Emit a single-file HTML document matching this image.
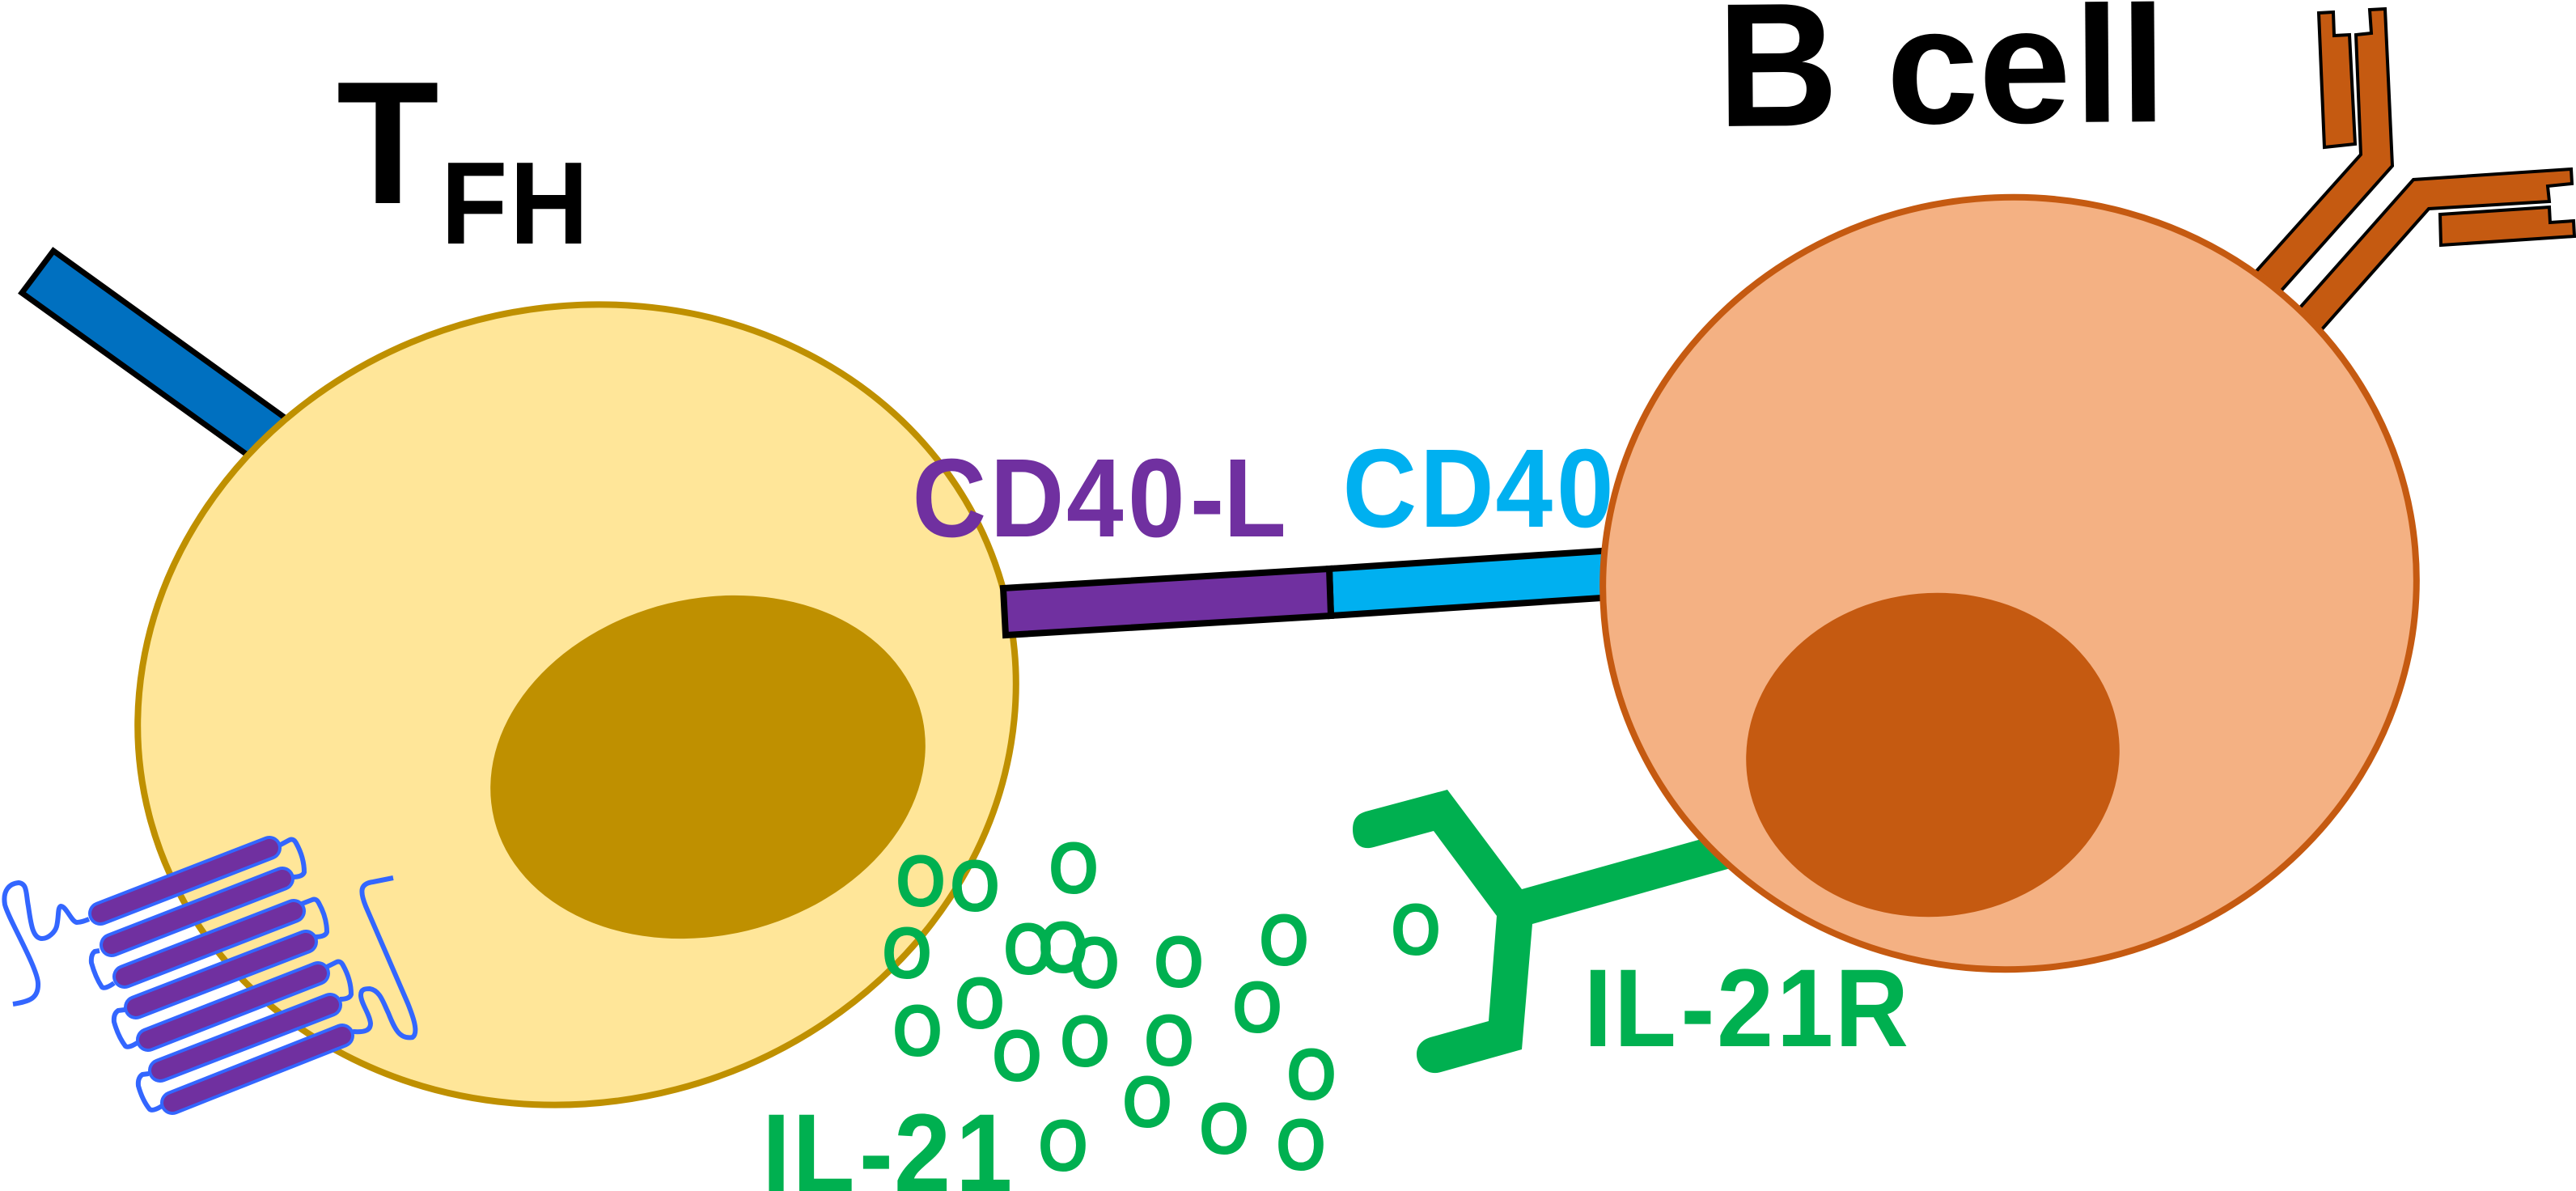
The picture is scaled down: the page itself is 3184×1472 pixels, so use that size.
<!DOCTYPE html>
<html>
<head>
<meta charset="utf-8">
<title>TFH and B cell</title>
<style>
html,body{margin:0;padding:0;background:#fff;}
svg{display:block;}
text{font-family:"Liberation Sans",sans-serif;font-weight:bold;}
</style>
</head>
<body>
<svg width="3184" height="1472" viewBox="0 0 3184 1472" xmlns="http://www.w3.org/2000/svg">
<rect width="3184" height="1472" fill="#fff"/>

<!-- TCR bar -->
<polygon points="66,310 399,550 350,594 27,362" fill="#0070C0" stroke="#000" stroke-width="7"/>

<!-- Antibody -->
<g fill="#C55A11" stroke="#000" stroke-width="4" stroke-linejoin="miter">
<polygon points="2789,335 2918,191 2912,43 2931,41 2929,12 2948,11 2957,205 2819,360 2800,400"/>
<polygon points="2866,16 2884,15 2885,44 2904,43 2911,178 2873,182"/>
<polygon points="2843,380 2983,222 3178,209 3179,227 3149,230 3151,249 3002,258 2870,407 2840,420"/>
<polygon points="3016,265 3151,256 3152,275 3181,273 3182,292 3017,303"/>
</g>

<!-- CD40 label (under B cell) -->
<text x="0 103.8 205.4 287.5" y="0" font-size="138" fill="#00B0F0" transform="translate(1659.5,651) scale(.92,1)">CD40</text>

<!-- CD40 bar -->
<polygon points="1643,703 1995,680 1995,738 1645,761" fill="#00B0F0" stroke="#000" stroke-width="8"/>

<!-- IL-21R receptor -->
<path d="M1789,976 L1881,1099 L2103,1037 L2160,1060 L2139,1073 L1894,1142 L1881,1297 L1781,1325 C1765,1330 1751,1318 1751,1303 C1751,1292 1758,1285 1768,1282 L1840,1262 L1850,1132 L1772,1027 L1698,1047 C1680,1052 1672,1040 1672,1025 C1672,1012 1678,1006 1688,1003 Z" fill="#00B050"/>

<!-- T cell -->
<ellipse cx="713" cy="871" rx="546" ry="491" transform="rotate(-14.5 713 871)" fill="#FFE699" stroke="#BF9000" stroke-width="8"/>
<ellipse cx="875" cy="948" rx="272" ry="208" transform="rotate(-13.7 875 948)" fill="#BF9000"/>

<!-- B cell -->
<ellipse cx="2484" cy="721" rx="503" ry="477" transform="rotate(-5 2484 721)" fill="#F4B183" stroke="#C55A11" stroke-width="8"/>
<ellipse cx="2389" cy="933" rx="231" ry="200" transform="rotate(-5 2389 933)" fill="#C55A11"/>

<!-- CD40-L bar -->
<polygon points="1240,727 1643,703 1645,761 1243,785" fill="#7030A0" stroke="#000" stroke-width="8"/>

<!-- Titles -->
<text x="0" y="0" font-size="216" fill="#000" transform="translate(416,251) scale(.96,1)">T</text>
<text x="0 91.4" y="0" font-size="145" fill="#000" transform="translate(545,301) scale(.93,1)">FH</text>
<g transform="rotate(-0.4 2400 150)" fill="#000">
<text x="2123" y="154" font-size="218" transform="translate(2123,0) scale(.95,1) translate(-2123,0)">B</text>
<text x="2332 2446 2564 2621" y="152" font-size="205">cell</text>
</g>

<!-- Labels -->
<text x="0 104.6 207.1 289.7 373.3 418.3" y="0" font-size="138" fill="#7030A0" transform="translate(1127.5,663) scale(.92,1)">CD40-L</text>
<text x="0 40.8 130.4 178.8 259.2 337.5" y="0" font-size="137" fill="#00B050" transform="translate(1957.5,1293) scale(.92,1)">IL-21R</text>
<text x="0 40.8 130.4 177.2 260" y="0" font-size="137" fill="#00B050" transform="translate(942,1472) scale(.92,1)">IL-21</text>

<!-- IL-21 molecules -->
<g font-size="91" fill="#00B050" text-anchor="middle">
<text transform="translate(1138,1120) scale(.88,1)">O</text>
<text transform="translate(1205,1126) scale(.88,1)">O</text>
<text transform="translate(1327,1104) scale(.88,1)">O</text>
<text transform="translate(1121,1209) scale(.88,1)">O</text>
<text transform="translate(1271,1204) scale(.88,1)">O</text>
<text transform="translate(1314,1202) scale(.88,1)">O</text>
<text transform="translate(1353,1221) scale(.88,1)">O</text>
<text transform="translate(1457,1220) scale(.88,1)">O</text>
<text transform="translate(1587,1193) scale(.88,1)">O</text>
<text transform="translate(1211,1271) scale(.88,1)">O</text>
<text transform="translate(1134,1305) scale(.88,1)">O</text>
<text transform="translate(1257,1336) scale(.88,1)">O</text>
<text transform="translate(1341,1318) scale(.88,1)">O</text>
<text transform="translate(1445,1317) scale(.88,1)">O</text>
<text transform="translate(1554,1276) scale(.88,1)">O</text>
<text transform="translate(1621,1359) scale(.88,1)">O</text>
<text transform="translate(1418,1393) scale(.88,1)">O</text>
<text transform="translate(1513,1426) scale(.88,1)">O</text>
<text transform="translate(1608,1446) scale(.88,1)">O</text>
<text transform="translate(1314,1447) scale(.88,1)">O</text>
<text transform="translate(1750,1180) scale(.88,1)">O</text>
</g>

<!-- 7TM receptor loops -->
<g fill="none" stroke="#3366FF" stroke-width="6" stroke-linecap="butt" stroke-linejoin="round">
<path d="M16,1241 C36,1238 48,1234 47,1215 C46,1195 10,1135 6,1118 C3,1100 12,1092 23,1091 C34,1092 32,1105 35,1120 C38,1140 40,1160 52,1160 C60,1160 68,1152 70,1145 C73,1132 71,1122 75,1120 C82,1120 88,1139 95,1140 C100,1140 105,1138 110,1136"/>
<path d="M345,1045 L358,1038 Q363,1036 366,1042 Q376,1060 376,1078 Q374,1084 361,1084"/>
<path d="M123,1175 L117,1176 Q112,1180 113,1190 Q118,1208 126,1220 Q130,1223 141,1215"/>
<path d="M373,1117 L386,1112 Q391,1110 394,1116 Q404,1134 404,1152 Q402,1158 389,1158"/>
<path d="M154,1248 L146,1249 Q140,1253 141,1263 Q146,1281 155,1293 Q159,1296 171,1288"/>
<path d="M404,1195 L416,1189 Q421,1187 424,1193 Q434,1211 434,1229 Q432,1235 420,1235"/>
<path d="M184,1327 L176,1328 Q170,1332 171,1342 Q176,1360 185,1371 Q189,1374 200,1367"/>
<path d="M436,1275 C450,1276 458,1274 458,1265 C457,1253 446,1240 446,1230 C446,1222 452,1222 457,1222 C470,1224 474,1240 480,1252 C488,1272 494,1285 510,1282 C518,1276 510,1255 504,1240 L452,1120 C444,1100 446,1092 461,1090 L486,1085"/>
</g>

<!-- 7TM helices -->
<g stroke-linecap="round" fill="none">
<g stroke="#3366FF" stroke-width="30">
<line x1="124" y1="1129" x2="333" y2="1048"/>
<line x1="138" y1="1168" x2="349" y2="1086"/>
<line x1="154" y1="1207" x2="363" y2="1126"/>
<line x1="168" y1="1245" x2="378" y2="1164"/>
<line x1="183" y1="1285" x2="393" y2="1203"/>
<line x1="198" y1="1323" x2="408" y2="1242"/>
<line x1="213" y1="1363" x2="423" y2="1280"/>
</g>
<g stroke="#7030A0" stroke-width="22">
<line x1="124" y1="1129" x2="333" y2="1048"/>
<line x1="138" y1="1168" x2="349" y2="1086"/>
<line x1="154" y1="1207" x2="363" y2="1126"/>
<line x1="168" y1="1245" x2="378" y2="1164"/>
<line x1="183" y1="1285" x2="393" y2="1203"/>
<line x1="198" y1="1323" x2="408" y2="1242"/>
<line x1="213" y1="1363" x2="423" y2="1280"/>
</g>
</g>
</svg>
</body>
</html>
